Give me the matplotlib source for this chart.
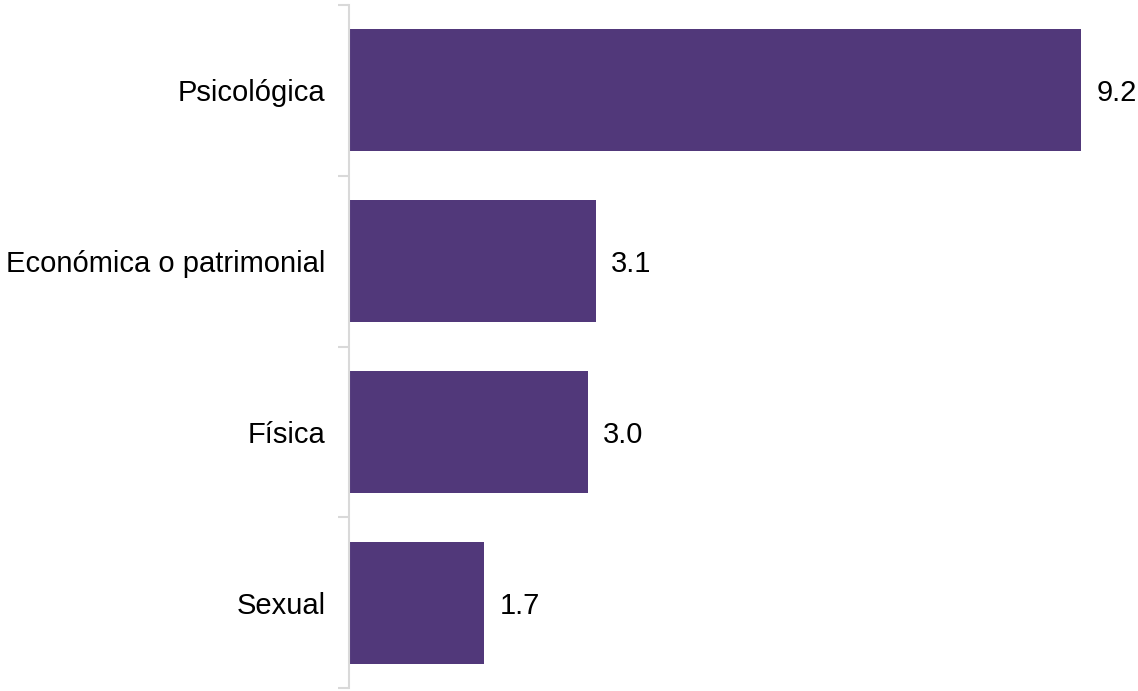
import matplotlib.pyplot as plt
from matplotlib.ticker import FixedLocator

categories = ["Psicológica", "Económica o patrimonial", "Física", "Sexual"]
values = [9.2, 3.1, 3.0, 1.7]

plt.rcParams["font.family"] = ["Liberation Sans", "DejaVu Sans"]

fig = plt.figure(figsize=(11.38, 6.91), dpi=100)
ax = fig.add_axes([349 / 1138, 3 / 691, 789 / 1138, 683 / 691])

y = list(range(len(categories)))
ax.barh(y, values, height=0.715, color="#51387A")

ax.set_ylim(len(categories) - 0.5, -0.5)
ax.set_xlim(0, 9.2 * 789 / 732)

for yi, v in zip(y, values):
    ax.annotate(f"{v:.1f}", (v, yi), xytext=(11, 0), textcoords="offset points",
                ha="left", va="center_baseline", fontsize=21, color="#000000")

ax.set_yticks(y)
ax.set_yticklabels(categories, fontsize=21, color="#000000", va="center_baseline")
ax.tick_params(axis="y", which="major", length=0, pad=17)
ax.yaxis.set_minor_locator(FixedLocator([-0.5, 0.5, 1.5, 2.5, 3.5]))
ax.tick_params(axis="y", which="minor", length=8, width=1.5, color="#D9D9D9")
ax.set_xticks([])

for s in ["top", "right", "bottom"]:
    ax.spines[s].set_visible(False)
ax.spines["left"].set_color("#D9D9D9")
ax.spines["left"].set_linewidth(1.5)

fig.savefig("out.png", dpi=100)
